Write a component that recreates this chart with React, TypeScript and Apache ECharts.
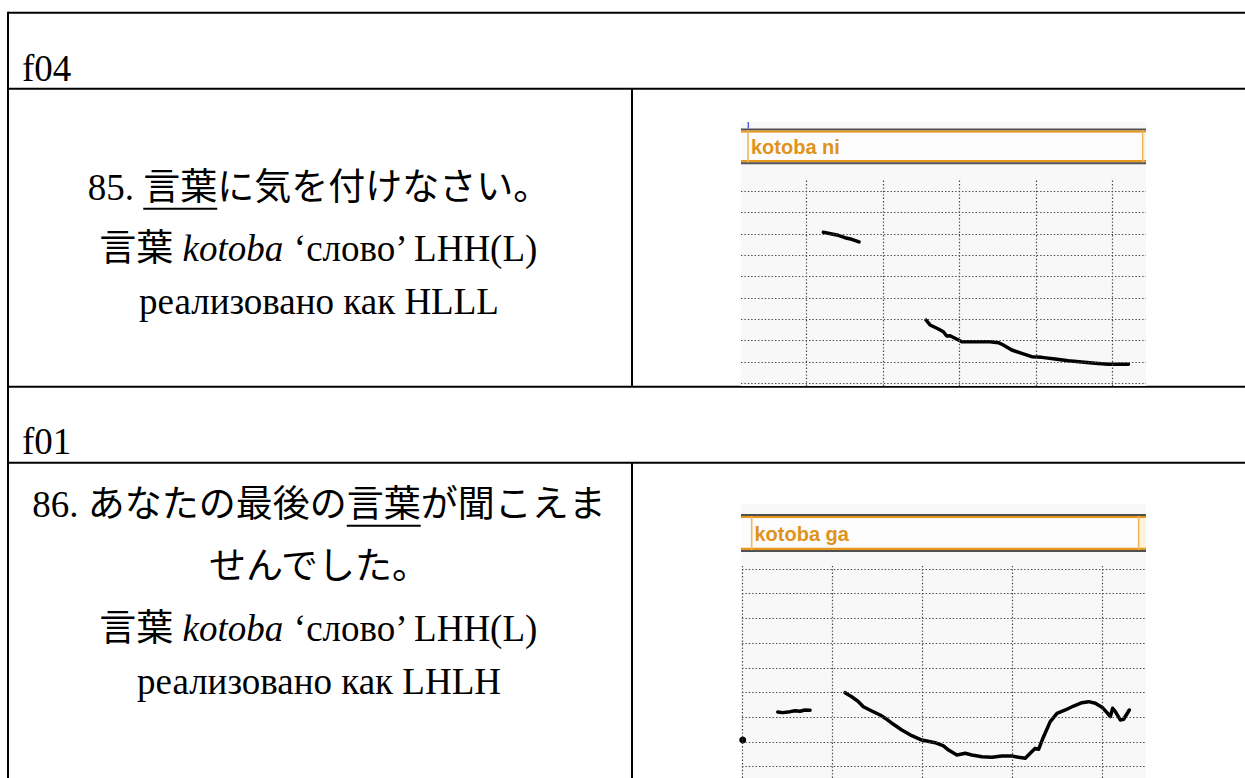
import React, { useEffect, useRef } from "react";
import * as echarts from "echarts";

const PAGE_W = 1245;
const PAGE_H = 778;

// Speaker codes and the word labels shown above each pitch track
const speakers = ["f04", "f01"];
const wordLabels = ["kotoba ni", "kotoba ga"];

// Example sentences (row 1 and row 2)
const sentence85 = ["85. ", "言葉", "に気を付けなさい。"];
const sentence86a = ["86. あなたの最後の", "言葉", "が聞こえま"];
const sentence86b = "せんでした。";
const glossParts = ["言葉 ", "kotoba", " ‘слово’ LHH(L)"];
const realised = ["реализовано как HLLL", "реализовано как LHLH"];

// F0 tracks, [time in ms, F0 in Hz]
const f04Voiced1 = [
  [107.7, 276.8], [118.7, 274.8], [127.4, 273.3], [136.1, 270.5], [144.9, 268.6], [154.5, 265.5],
];
const f04Voiced2 = [
  [242.1, 174.2], [247.4, 168.4], [258.3, 163.7], [264.8, 160.5], [269.2, 155.5], [273.6, 155.8],
  [280.1, 152.8], [288.9, 148.8], [306.3, 148.8], [325.9, 148.8], [336.8, 147.7], [343.3, 145.0],
  [354.3, 139.1], [367.4, 135.2], [380.5, 131.3], [393.6, 130.5], [411.0, 128.6], [428.4, 126.6],
  [445.9, 125.1], [463.4, 123.6], [480.8, 122.4], [507.0, 122.4],
];
const f01Onset = [[0.8, 127.0]];
const f01Voiced1 = [
  [39.6, 155.4], [45.2, 154.7], [53.3, 155.7], [58.8, 156.7], [64.4, 156.1], [69.9, 157.4], [75.5, 157.1],
];
const f01Voiced2 = [
  [114.3, 174.9], [121.7, 170.8], [129.1, 165.8], [134.6, 160.7], [143.9, 156.4], [153.2, 152.3],
  [160.6, 148.0], [167.9, 142.9], [177.2, 137.2], [188.3, 131.4], [199.4, 127.0], [214.2, 124.3],
  [223.4, 121.0], [229.0, 116.9], [238.3, 111.9], [247.5, 113.6], [254.9, 111.9], [266.0, 110.1],
  [277.1, 109.5], [288.2, 110.9], [299.3, 110.9], [306.7, 109.5], [314.1, 108.5], [319.6, 113.6],
  [325.2, 118.6], [328.9, 117.6], [334.4, 130.4], [341.8, 145.6], [349.3, 154.0], [358.5, 157.4],
  [367.7, 161.4], [377.0, 164.8], [384.4, 165.8], [391.8, 164.2], [399.2, 160.1], [404.8, 154.7],
  [408.4, 150.6], [411.0, 159.1], [414.0, 155.7], [419.5, 147.3], [423.2, 148.0], [429.5, 157.4],
];

// Grid line positions of the two pitch panels
const f04TimeLines = [86, 186, 286, 386, 486];
const f04PitchLines = [100, 125, 150, 175, 200, 225, 250, 275, 300, 325];
const f01TimeLines = [0, 100, 200, 300, 400];
const f01PitchLines = [100, 125, 150, 175, 200, 225, 250, 275, 300];

const SERIF = '"Liberation Serif", "Noto Sans CJK JP", serif';
const TEXT_SIZE = 37;
const ORANGE = "#e5961b";
const ORANGE_LIGHT = "#efb65e";
const DOT_GRID = { type: [1.4, 2.0], color: "#4a4a4a", width: 1.2 };

function measure(text: string, font: string): number {
  const ctx = document.createElement("canvas").getContext("2d");
  if (!ctx) return text.length * TEXT_SIZE * 0.6;
  ctx.font = font;
  return ctx.measureText(text).width;
}

function hLine(y: number, x1: number, x2: number, w = 2, c = "#000") {
  return { type: "line", silent: true, shape: { x1, y1: y, x2, y2: y }, style: { stroke: c, lineWidth: w } };
}
function vLine(x: number, y1: number, y2: number, w = 2, c = "#000") {
  return { type: "line", silent: true, shape: { x1: x, y1, x2: x, y2 }, style: { stroke: c, lineWidth: w } };
}
function box(x: number, y: number, width: number, height: number, fill: string) {
  return { type: "rect", silent: true, shape: { x, y, width, height }, style: { fill } };
}
function plainText(text: string, x: number, y: number, align = "center") {
  return {
    type: "text",
    silent: true,
    x,
    y,
    style: {
      text,
      fill: "#000",
      fontSize: TEXT_SIZE,
      fontFamily: SERIF,
      align,
      verticalAlign: "middle",
    },
  };
}
function glossText(x: number, y: number) {
  return {
    type: "text",
    silent: true,
    x,
    y,
    style: {
      text: `{n|${glossParts[0]}}{i|${glossParts[1]}}{n|${glossParts[2]}}`,
      align: "center",
      verticalAlign: "middle",
      rich: {
        n: { fontSize: TEXT_SIZE, fontFamily: SERIF, fill: "#000" },
        i: { fontSize: TEXT_SIZE, fontFamily: SERIF, fontStyle: "italic", fill: "#000" },
      },
    },
  };
}

// Underlined sentence, centred at cx; the underline sits under the middle part
function underlinedSentence(parts: string[], cx: number, cy: number, underlineY: number) {
  const font = `${TEXT_SIZE}px ${SERIF}`;
  const full = parts.join("");
  const total = measure(full, font);
  const left = cx - total / 2;
  const u1 = left + measure(parts[0], font);
  const u2 = u1 + measure(parts[1], font);
  return [plainText(full, cx, cy), hLine(underlineY, u1, u2, 2)];
}

function panelFrame(top: number, bandTop: number, bandBottom: number, boxL: number, boxR: number, label: string, labelX: number, withCursor: boolean) {
  const L = 741;
  const R = 1146;
  const items: any[] = [
    box(L, top, R - L, (top < 400 ? 386 : PAGE_H) - top, "#f8f8f8"),
    box(L, bandTop, R - L, 2, "#505050"),
    box(L, bandTop + 2, R - L, 2.2, ORANGE),
    box(L, bandTop + 4.2, R - L, bandBottom - bandTop - 8.4, "#fcfcfc"),
    box(boxR + 1, bandTop + 4.2, R - boxR - 1, bandBottom - bandTop - 8.4, "#fdf2dc"),
    box(L, bandBottom - 4.2, R - L, 2.2, ORANGE),
    box(L, bandBottom - 2, R - L, 2, "#505050"),
    vLine(boxL, bandTop + 2, bandBottom - 2, 1.6, ORANGE_LIGHT),
    vLine(boxR, bandTop + 2, bandBottom - 2, 1.6, ORANGE_LIGHT),
    {
      type: "text",
      silent: true,
      x: labelX,
      y: (bandTop + bandBottom) / 2 + 0.5,
      style: {
        text: label,
        fill: "#e0931a",
        fontSize: 20,
        fontWeight: "bold",
        fontFamily: '"Liberation Sans", Arial, sans-serif',
        align: "left",
        verticalAlign: "middle",
      },
    },
  ];
  if (withCursor) items.push(vLine(748.3, top, bandTop, 1.5, "#4f5fe6"));
  return items;
}

function gridLineSeries(idx: number, times: number[], pitches: number[]) {
  return {
    type: "line",
    xAxisIndex: idx,
    yAxisIndex: idx,
    data: [],
    z: 1,
    silent: true,
    markLine: {
      silent: true,
      animation: false,
      symbol: ["none", "none"],
      label: { show: false },
      emphasis: { disabled: true },
      lineStyle: DOT_GRID,
      data: [...times.map((v) => ({ xAxis: v })), ...pitches.map((v) => ({ yAxis: v }))],
    },
  };
}

function trackSeries(idx: number, data: number[][]) {
  return {
    type: "line",
    xAxisIndex: idx,
    yAxisIndex: idx,
    data,
    z: 3,
    showSymbol: false,
    silent: true,
    lineStyle: { color: "#000", width: 3.5, join: "round", cap: "round" },
    emphasis: { disabled: true },
  };
}

export default function App() {
  const ref = useRef<HTMLDivElement>(null);

  useEffect(() => {
    document.body.style.margin = "0";
    document.body.style.background = "#fff";
    if (!ref.current) return;
    const chart = echarts.init(ref.current, null, { renderer: "svg", width: PAGE_W, height: PAGE_H });

    const cellCx = 319;
    const graphic: any[] = [
      // table rules
      hLine(12.7, 8, PAGE_W),
      vLine(8, 11.7, PAGE_H),
      hLine(88.7, 8, PAGE_W),
      vLine(632, 88.7, 386.7),
      hLine(386.7, 8, PAGE_W),
      hLine(462.7, 8, PAGE_W),
      vLine(632, 462.7, PAGE_H),
      // speaker codes
      plainText(speakers[0], 22, 68, "left"),
      plainText(speakers[1], 22, 441, "left"),
      // row 1
      ...underlinedSentence(sentence85, cellCx, 187, 208.7),
      glossText(cellCx, 248),
      plainText(realised[0], cellCx, 301),
      // row 2
      ...underlinedSentence(sentence86a, cellCx, 504, 525.7),
      plainText(sentence86b, cellCx, 566),
      glossText(cellCx, 628),
      plainText(realised[1], cellCx, 681),
      // pitch panels
      ...panelFrame(122, 128.5, 164.3, 748, 1142.7, wordLabels[0], 751, true),
      ...panelFrame(504, 514, 552, 751.7, 1138.7, wordLabels[1], 754.5, false),
    ];

    chart.setOption({
      animation: false,
      backgroundColor: "#ffffff",
      grid: [
        { left: 741, top: 180, width: 405, height: 206 },
        { left: 742, top: 566, width: 404, height: 212 },
      ],
      xAxis: [
        { type: "value", gridIndex: 0, min: 0, max: 530, show: false },
        { type: "value", gridIndex: 1, min: 0, max: 448, show: false },
      ],
      yAxis: [
        { type: "value", gridIndex: 0, min: 97, max: 338, show: false },
        { type: "value", gridIndex: 1, min: 88.6, max: 303, show: false },
      ],
      graphic,
      series: [
        gridLineSeries(0, f04TimeLines, f04PitchLines),
        gridLineSeries(1, f01TimeLines, f01PitchLines),
        trackSeries(0, f04Voiced1),
        trackSeries(0, f04Voiced2),
        trackSeries(1, f01Voiced1),
        trackSeries(1, f01Voiced2),
        {
          type: "scatter",
          xAxisIndex: 1,
          yAxisIndex: 1,
          data: f01Onset,
          symbolSize: 7,
          clip: true,
          silent: true,
          z: 3,
          itemStyle: { color: "#000", opacity: 1 },
        },
      ],
    });

    return () => chart.dispose();
  }, []);

  return <div ref={ref} style={{ width: PAGE_W, height: PAGE_H, background: "#fff" }} />;
}
